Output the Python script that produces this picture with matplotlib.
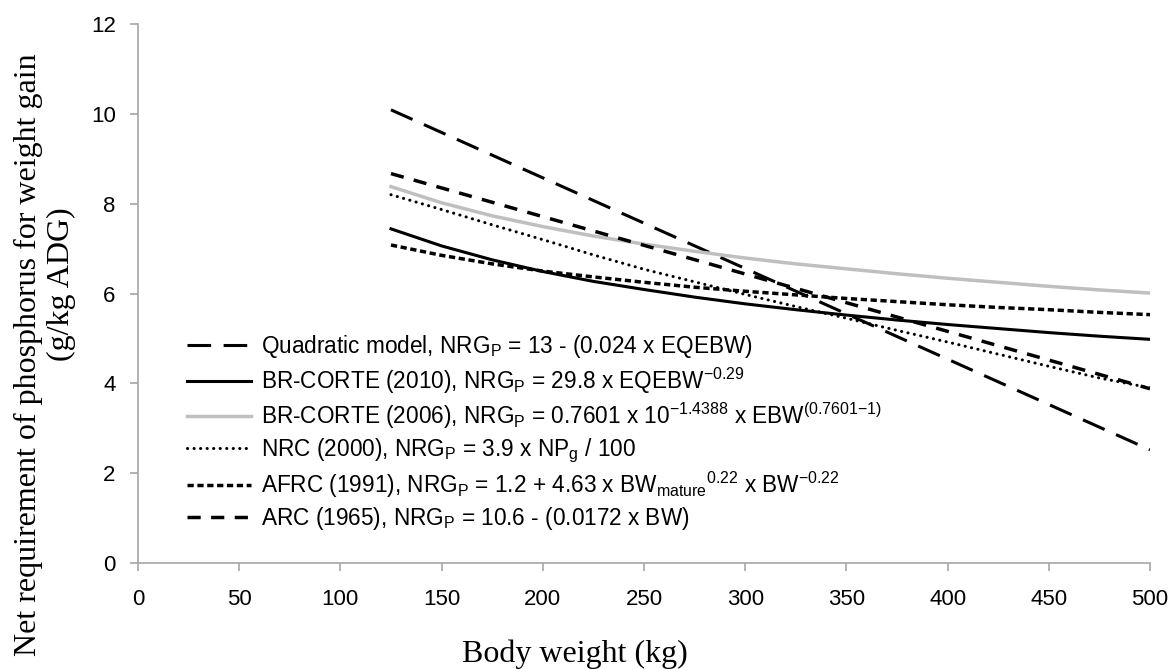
import matplotlib
matplotlib.use("Agg")
import matplotlib.pyplot as plt

# body weight grid (kg) for the curved equations
bw = [125, 150, 175, 200, 225, 250, 275, 300, 325, 350, 375, 400, 425, 450, 475, 500]
# straight-line equations only need their end points
bw_ends = [125, 500]

quadratic = [10.09, 2.52]
br_corte_2010 = [7.44, 7.06, 6.75, 6.49, 6.27, 6.09, 5.92, 5.77, 5.64, 5.52, 5.41, 5.31, 5.22, 5.13, 5.05, 4.98]
br_corte_2006 = [8.38, 8.02, 7.73, 7.49, 7.28, 7.10, 6.94, 6.79, 6.66, 6.55, 6.44, 6.34, 6.25, 6.16, 6.08, 6.01]
nrc_2000 = [8.20, 7.87, 7.53, 7.20, 6.86, 6.54, 6.26, 5.98, 5.71, 5.45, 5.18, 4.92, 4.65, 4.38, 4.12, 3.90]
afrc_1991 = [7.08, 6.85, 6.66, 6.50, 6.37, 6.25, 6.14, 6.05, 5.97, 5.89, 5.82, 5.75, 5.69, 5.64, 5.58, 5.53]
arc_1965 = [8.67, 3.88]

labels = [
    r"Quadratic model, NRG$_\mathrm{P}$ = 13 - (0.024 x EQEBW)",
    r"BR-CORTE (2010), NRG$_\mathrm{P}$ = 29.8 x EQEBW$^{-0.29}$",
    r"BR-CORTE (2006), NRG$_\mathrm{P}$ = 0.7601 x 10$^{-1.4388}$ x EBW$^{(0.7601\mathrm{-}1)}$",
    r"NRC (2000), NRG$_\mathrm{P}$ = 3.9 x NP$_\mathrm{g}$ / 100",
    r"AFRC (1991), NRG$_\mathrm{P}$ = 1.2 + 4.63 x BW$_\mathrm{mature}{}^{0.22}$ x BW$^{-0.22}$",
    r"ARC (1965), NRG$_\mathrm{P}$ = 10.6 - (0.0172 x BW)",
]

plt.rcParams["font.family"] = "Liberation Sans"
plt.rcParams["mathtext.fontset"] = "custom"
plt.rcParams["mathtext.rm"] = "Liberation Sans"
plt.rcParams["mathtext.it"] = "Liberation Sans:italic"
plt.rcParams["mathtext.default"] = "regular"
plt.rcParams["lines.scale_dashes"] = False

fig = plt.figure(figsize=(11.73, 6.69), dpi=100)
ax = fig.add_axes([0.1176, 0.1584, 0.8628, 0.8057])

lw = 2.2
ax.plot(bw_ends, quadratic, color="black", lw=lw, ls=(0, (17, 9)), label=labels[0])
ax.plot(bw, br_corte_2010, color="black", lw=lw, label=labels[1])
ax.plot(bw, br_corte_2006, color="#bfbfbf", lw=lw + 0.3, label=labels[2])
ax.plot(bw, nrc_2000, color="black", lw=lw, ls=(0, (0.1, 4.6)),
        dash_capstyle="round", label=labels[3])
ax.plot(bw, afrc_1991, color="black", lw=lw + 0.3, ls=(0, (4.5, 2.6)), label=labels[4])
ax.plot(bw_ends, arc_1965, color="black", lw=lw + 0.3, ls=(0, (9.5, 7.5)), label=labels[5])

ax.set_xlim(0, 500)
ax.set_ylim(0, 12)
ax.set_xticks(range(0, 501, 50))
ax.set_yticks(range(0, 13, 2))
for side in ["top", "right"]:
    ax.spines[side].set_visible(False)
for side in ["left", "bottom"]:
    ax.spines[side].set_color("#a6a6a6")
    ax.spines[side].set_linewidth(1.2)
ax.tick_params(axis="both", colors="#a6a6a6", labelcolor="black",
               labelsize=16, length=6, width=1.2, direction="out")
ax.tick_params(axis="x", pad=13)
ax.tick_params(axis="y", pad=10)

# axis titles sit off-centre, so place them as figure text
serif = "Liberation Serif"
fig.text(0.49, 0.0105, "Body weight (kg)", family=serif, fontsize=23,
         ha="center", va="baseline")
fig.text(0.024, 0.47, "Net requirement of phosphorus for weight gain",
         family=serif, fontsize=23, rotation=90, ha="center", va="center")
fig.text(0.052, 0.575, "(g/kg ADG)", family=serif, fontsize=23,
         rotation=90, ha="center", va="center")

ax.legend(loc="center left", bbox_to_anchor=(0.048, 0.242), frameon=False,
          fontsize=16.3, handlelength=2.85, handletextpad=0.45, labelspacing=0.22,
          borderaxespad=0, borderpad=0)

fig.savefig("out.png", dpi=100)
